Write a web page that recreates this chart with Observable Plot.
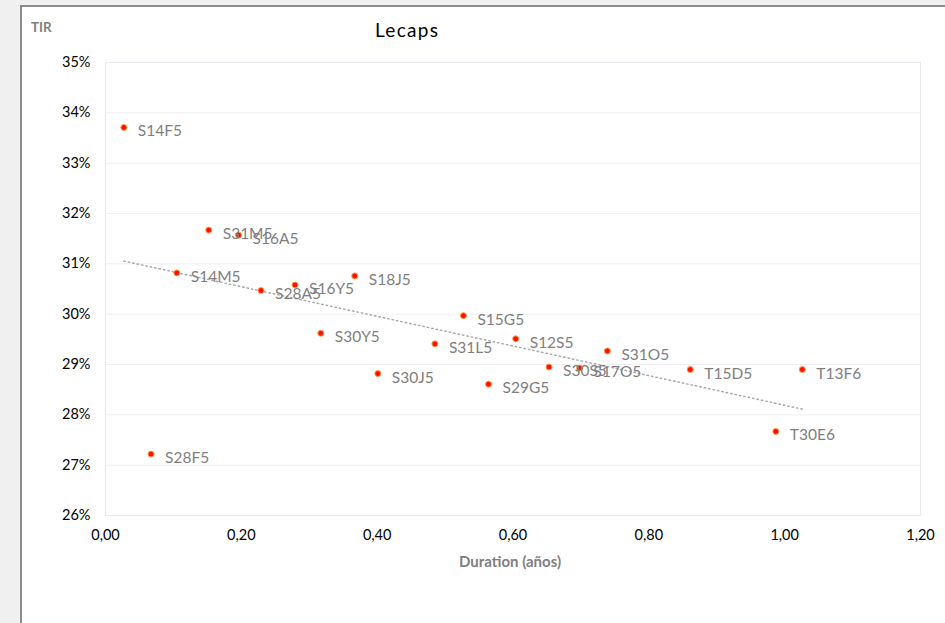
<!DOCTYPE html>
<html>
<head>
<meta charset="utf-8">
<script src="https://cdn.jsdelivr.net/npm/d3@7"></script>
<script src="https://cdn.jsdelivr.net/npm/@observablehq/plot@0.6"></script>
<style>
  html, body { margin: 0; padding: 0; background: #f0f0f0; width: 945px; height: 623px; overflow: hidden; }
  #box { position: absolute; left: 20px; top: 5px; width: 925px; height: 618px; background: #fff;
         border-left: 2px solid #8c8c8c; border-top: 2px solid #8c8c8c; }
  #chart { position: absolute; left: 0; top: 0; }
  .txt { position: absolute; font-family: Lato, "Open Sans", sans-serif; white-space: nowrap; }
  #title { left: 353px; top: 11px; font-size: 19px; letter-spacing: 1.3px; color: #000; }
  #ylab { left: 9px; top: 12px; font-size: 13.5px; font-weight: bold; color: #7f7f7f; }
  #xlab { left: 437px; top: 545px; font-size: 15px; font-weight: bold; color: #7f7f7f; }
</style>
</head>
<body>
<div id="box">
  <div id="chart"></div>
  <div class="txt" id="title">Lecaps</div>
  <div class="txt" id="ylab">TIR</div>
  <div class="txt" id="xlab">Duration (años)</div>
</div>
<script>
const bonds = ["S14F5","S28F5","S14M5","S31M5","S16A5","S28A5","S16Y5","S30Y5","S18J5","S30J5",
               "S31L5","S15G5","S29G5","S12S5","S30S5","S17O5","S31O5","T15D5","T30E6","T13F6"];
const duration = [0.027,0.067,0.105,0.152,0.196,0.229,0.279,0.317,0.367,0.401,
                  0.485,0.527,0.564,0.604,0.653,0.698,0.739,0.861,0.987,1.026];
const tir = [33.71,27.22,30.82,31.67,31.57,30.47,30.58,29.62,30.76,28.82,
             29.41,29.97,28.61,29.51,28.95,28.93,29.27,28.90,27.67,28.90];
const xTicks = [0,0.2,0.4,0.6,0.8,1.0,1.2];
const yTicks = [26,27,28,29,30,31,32,33,34,35];

const data = bonds.map((b,i) => ({bond: b, x: duration[i], y: tir[i]}));
const fmtX = d => d3.format(".2f")(d).replace(".", ",");

const chart = Plot.plot({
  width: 923,
  height: 616,
  marginLeft: 83,
  marginRight: 25,
  marginTop: 55,
  marginBottom: 108,
  style: { background: "transparent", fontFamily: "Lato, 'Open Sans', sans-serif", fontSize: "14px", color: "#000" },
  x: { domain: [0, 1.2], ticks: xTicks, tickFormat: fmtX, label: null },
  y: { domain: [26, 35], ticks: yTicks, tickFormat: d => d + "%", label: null },
  marks: [
    Plot.gridY(yTicks, { stroke: "#efeff4", strokeOpacity: 1 }),
    Plot.frame({ stroke: "#e9e9f0" }),
    Plot.axisX({ ticks: xTicks, tickFormat: fmtX, tickSize: 0, tickPadding: 14, label: null, fontSize: 14.5, fill: "#000" }),
    Plot.axisY({ ticks: yTicks, tickFormat: d => d + "%", tickSize: 0, tickPadding: 15, label: null, fontSize: 14.5, fill: "#000" }),
    Plot.linearRegressionY(data, { x: "x", y: "y", ci: 0, stroke: "#a6a6a6", strokeWidth: 1.4, strokeDasharray: "1.5,3" }),
    Plot.dot(data, { x: "x", y: "y", r: 3, fill: "#ff1000", stroke: "#ffa050", strokeWidth: 1 }),
    Plot.text(data, { x: "x", y: "y", text: "bond", textAnchor: "start", dx: 14, dy: 4, fill: "#7f7f7f", fontSize: 15.5 })
  ]
});
document.getElementById("chart").appendChild(chart);
</script>
</body>
</html>
